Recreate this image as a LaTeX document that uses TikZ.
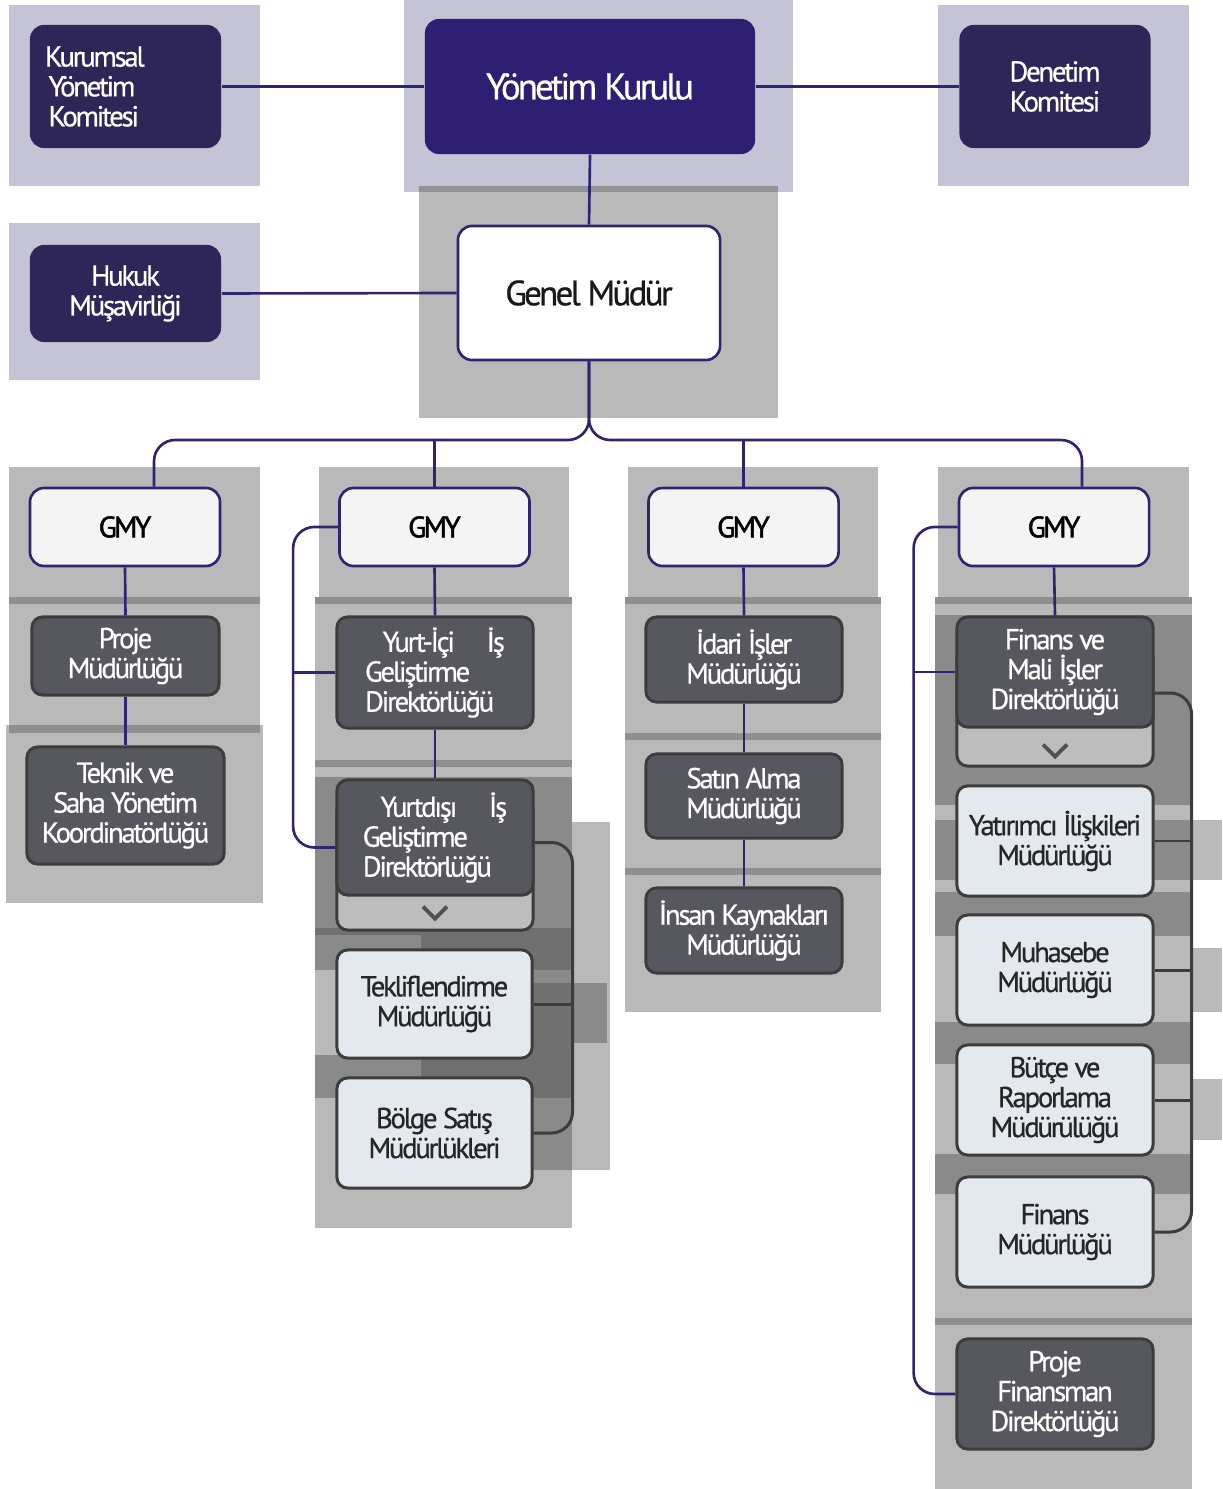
\documentclass[tikz,border=0pt]{standalone}
\usepackage{fontspec}
\setmainfont{PT Sans}
\newfontfamily\semafont[LetterSpace=-8,FakeBold=0.6]{PT Sans}
\newfontfamily\gmyfont[LetterSpace=-9,FakeBold=1.6]{PT Sans}
\definecolor{lavanta}{HTML}{C5C3D6}
\definecolor{lacivert}{HTML}{2E2558}
\definecolor{kurulmor}{HTML}{2E1F73}
\definecolor{hat}{HTML}{2C2570}
\definecolor{panelgri}{HTML}{B9B9B9}
\definecolor{seritgri}{HTML}{8E8E8E}
\definecolor{bantgri}{HTML}{8A8A8A}
\definecolor{derinbant}{HTML}{707070}
\definecolor{koyukutu}{HTML}{57575F}
\definecolor{kenar}{HTML}{3C3C3C}
\definecolor{acikkutu}{HTML}{E3E9EF}
\definecolor{gmyzemin}{HTML}{F4F4F4}
\definecolor{sekme}{HTML}{BDBDBD}

\begin{document}
\begin{tikzpicture}[x=0.01cm,y=-0.01cm,
   every node/.style={font=\semafont\fontsize{8.2}{8.5}\selectfont,align=center,inner sep=0pt},
   komite/.style={fill=lacivert,text=white,rounded corners=4pt,minimum width=1.91cm},
   kurul/.style={fill=kurulmor,text=white,rounded corners=4pt,minimum width=3.30cm,minimum height=1.35cm,
      font=\semafont\fontsize{10.5}{11}\selectfont},
   genel/.style={fill=white,draw=hat,line width=0.75pt,rounded corners=4pt,minimum width=2.62cm,minimum height=1.34cm,
      font=\semafont\fontsize{10}{11}\selectfont,text=black!90},
   gmybox/.style={fill=gmyzemin,draw=hat,line width=0.75pt,rounded corners=4pt,minimum width=1.90cm,minimum height=0.78cm,
      text=black,font=\gmyfont\fontsize{8.4}{9}\selectfont},
   koyu/.style={fill=koyukutu,draw=kenar,line width=0.85pt,rounded corners=3pt,text=white,minimum width=1.96cm,minimum height=1.10cm},
   acik/.style={fill=acikkutu,draw=kenar,line width=0.85pt,rounded corners=3pt,text=black!85,minimum width=1.96cm,minimum height=1.10cm},
   sekmebox/.style={fill=sekme,draw=kenar,line width=0.85pt,rounded corners=3pt,minimum width=1.96cm},
   baglanti/.style={draw=hat,line width=0.75pt},
   ichat/.style={draw=kenar,line width=0.85pt},
   chevron/.style={draw=kenar!90,line width=1.1pt}]
\useasboundingbox (0,0) rectangle (1222,1489);

\fill[lavanta] (9,5) rectangle (260,186);
\fill[lavanta] (404,0) rectangle (793,192);
\fill[lavanta] (938,5) rectangle (1189,186);
\fill[lavanta] (9,223) rectangle (260,380);
\fill[panelgri] (419,186) rectangle (778,418);
\fill[seritgri!90!lavanta] (419,186) rectangle (778,192);

\fill[panelgri] (9,467) rectangle (260,725);
\fill[panelgri] (6,725) rectangle (263,903);
\fill[seritgri] (9,597) rectangle (260,604);
\fill[seritgri] (9,725) rectangle (260,733);

\fill[panelgri] (319,467) rectangle (569,597);
\fill[panelgri] (315,597) rectangle (572,1228);
\fill[panelgri] (572,822) rectangle (610,1170);
\fill[seritgri] (315,597) rectangle (572,604);
\fill[seritgri] (315,760) rectangle (572,767);
\fill[bantgri] (315,777) rectangle (572,928);
\fill[derinbant] (315,928) rectangle (572,935);
\fill[bantgri] (315,935) rectangle (421,970);
\fill[derinbant] (421,935) rectangle (572,970);
\fill[bantgri] (421,970) rectangle (572,983);
\fill[derinbant] (421,983) rectangle (572,1055);
\fill[bantgri] (572,983) rectangle (607,1043);
\fill[bantgri] (315,1055) rectangle (421,1098);
\fill[derinbant] (421,1055) rectangle (572,1098);
\fill[bantgri] (421,1098) rectangle (572,1170);

\fill[panelgri] (628,467) rectangle (878,597);
\fill[panelgri] (625,597) rectangle (881,1012);
\fill[seritgri] (625,597) rectangle (881,604);
\fill[seritgri] (625,733) rectangle (881,740);
\fill[seritgri] (625,868) rectangle (881,875);

\fill[panelgri] (938,467) rectangle (1189,597);
\fill[panelgri] (935,597) rectangle (1192,1489);
\fill[seritgri] (935,597) rectangle (1192,604);
\fill[bantgri] (935,615) rectangle (1192,805);
\fill[bantgri] (935,820) rectangle (1192,880);
\fill[bantgri] (935,892) rectangle (1192,936);
\fill[bantgri] (935,1022) rectangle (1192,1064);
\fill[bantgri] (935,1154) rectangle (1192,1194);
\fill[seritgri] (935,1318) rectangle (1192,1325);
\fill[panelgri] (1192,820) rectangle (1222,880);
\fill[panelgri] (1192,948) rectangle (1222,1012);
\fill[panelgri] (1192,1079) rectangle (1222,1140);

\node[komite,minimum height=1.23cm,text width=1.61cm,align=left] (kyk) at (125.5,86.5)
   {Kurumsal\\\hspace{1pt}Yönetim\\\hspace{1pt}Komitesi};
\node[kurul] (yk) at (590,86.5) {Yönetim Kurulu};
\node[komite,minimum height=1.23cm] (dk) at (1055,86.5) {Denetim\\Komitesi};
\node[komite,minimum height=0.97cm] (hm) at (125.5,293.5) {Hukuk\\Müşavirliği};
\node[genel] (gm) at (589,293) {Genel Müdür};

\node[gmybox] (gmy1) at (125,527) {GMY};
\node[gmybox] (gmy2) at (434.5,527) {GMY};
\node[gmybox] (gmy3) at (743.5,527) {GMY};
\node[gmybox] (gmy4) at (1054,527) {GMY};

\node[koyu,minimum width=1.87cm,minimum height=0.78cm] (pm) at (125.5,656) {Proje\\Müdürlüğü};
\node[koyu,minimum width=1.97cm,minimum height=1.17cm] (tsk) at (125.5,805.5) {Teknik ve\\Saha Yönetim\\Koordinatörlüğü};

\node[koyu,minimum height=1.11cm,align=left] (yi) at (435,672.5)
   {\hspace{5pt}Yurt-İçi\hspace{9pt}İş\\Geliştirme\\Direktörlüğü};
\node[sekmebox,minimum height=1.30cm] (ydtab) at (435,865) {};
\node[koyu,minimum height=1.15cm,align=left] (yd) at (435,837.5)
   {\hspace{5pt}Yurtdışı\hspace{9pt}İş\\Geliştirme\\Direktörlüğü};
\node[acik,minimum width=1.95cm,minimum height=1.08cm] (tm) at (434.5,1004) {Tekliflendirme\\Müdürlüğü};
\node[acik,minimum width=1.95cm] (bs) at (434.5,1133) {Bölge Satış\\Müdürlükleri};

\node[koyu,minimum height=0.85cm] (iim) at (744,659.5) {İdari İşler\\Müdürlüğü};
\node[koyu,minimum height=0.84cm] (sam) at (744,796) {Satın Alma\\Müdürlüğü};
\node[koyu,minimum height=0.85cm] (ikm) at (744,930.5) {İnsan Kaynakları\\Müdürlüğü};

\node[sekmebox,minimum height=1.20cm] (fmitab) at (1055,706) {};
\node[koyu] (fmi) at (1055,672) {Finans ve\\Mali İşler\\Direktörlüğü};
\node[acik] (yim) at (1055,841) {Yatırımcı İlişkileri\\Müdürlüğü};
\node[acik] (mu) at (1055,970) {Muhasebe\\Müdürlüğü};
\node[acik] (br) at (1055,1100) {Bütçe ve\\Raporlama\\Müdürülüğü};
\node[acik] (fm) at (1055,1232) {Finans\\Müdürlüğü};
\node[koyu] (pfd) at (1055,1394) {Proje\\Finansman\\Direktörlüğü};

\draw[chevron] ([xshift=-0.12cm,yshift=0.25cm]ydtab.south) -- ([yshift=0.13cm]ydtab.south)
   -- ([xshift=0.12cm,yshift=0.25cm]ydtab.south);
\draw[chevron] ([xshift=-0.12cm,yshift=0.23cm]fmitab.south) -- ([yshift=0.11cm]fmitab.south)
   -- ([xshift=0.12cm,yshift=0.23cm]fmitab.south);

\draw[baglanti] (kyk.east) -- (yk.west);
\draw[baglanti] (yk.east) -- (dk.west);
\draw[baglanti] (yk.south) -- (gm.north);
\draw[baglanti] (hm.east) -- (gm.west);

\coordinate (bus) at (589,440);
\draw[baglanti,rounded corners=6pt] (gm.south) -- (bus) -| ([xshift=0.29cm]gmy1.north);
\draw[baglanti,rounded corners=6pt] (gm.south) -- (bus) -| ([xshift=0.28cm]gmy4.north);
\draw[baglanti] (gmy2.north) -- (gmy2.north |- bus);
\draw[baglanti] (gmy3.north) -- (gmy3.north |- bus);

\draw[baglanti] (gmy1.south) -- (pm.north);
\draw[baglanti] (pm.south) -- (tsk.north);

\draw[baglanti] (gmy2.south) -- (yi.north);
\draw[baglanti] (yi.south) -- (yd.north);
\draw[baglanti,rounded corners=6pt] (gmy2.west) -- ++(-45,0) |- ([yshift=-0.1cm]yd.west);
\draw[baglanti] (yi.west) -- ++(-42,0);
\draw[ichat,rounded corners=6pt] ([yshift=-0.05cm]yd.east) -- ++(38,0) |- (bs.east);
\draw[ichat] (tm.east) -- ++(38,0);

\draw[baglanti] (gmy3.south) -- (iim.north);
\draw[baglanti] (iim.south) -- (sam.north);
\draw[baglanti] (sam.south) -- (ikm.north);

\draw[baglanti] (gmy4.south) -- (fmi.north);
\draw[baglanti,rounded corners=6pt] (gmy4.west) -- ++(-44,0) |- (pfd.west);
\draw[baglanti] (fmi.west) -- ++(-42,0);
\draw[ichat,rounded corners=6pt] ([yshift=-0.21cm]fmi.east) -- ++(37,0) |- (fm.east);
\draw[ichat] (yim.east) -- ++(37,0);
\draw[ichat] (mu.east) -- ++(37,0);
\draw[ichat] (br.east) -- ++(37,0);
\end{tikzpicture}
\end{document}
